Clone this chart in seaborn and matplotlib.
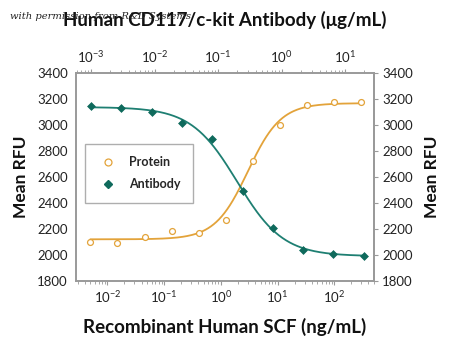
import numpy as np
import pandas as pd
import seaborn as sns
import matplotlib.pyplot as plt
from matplotlib.ticker import LogLocator, NullFormatter

# data
protein_conc = [0.005, 0.015, 0.046, 0.137, 0.41, 1.23, 3.7, 11.1, 33.3, 100, 300]  # ng/mL
protein_rfu = [2098, 2088, 2139, 2181, 2165, 2268, 2723, 3001, 3155, 3176, 3176]
antibody_conc = [0.001, 0.003, 0.009, 0.027, 0.081, 0.243, 0.729, 2.19, 6.56, 19.7]  # ug/mL
antibody_rfu = [3150, 3132, 3099, 3014, 2893, 2492, 2209, 2037, 2003, 1993]

# fitted 4PL parameters (bottom, top, ec50, hill) estimated from the curves
protein_fit = (2120, 3170, 3.0, 1.5)
antibody_fit = (1990, 3140, 0.2, 1.2)

orange = "#E3A33A"
teal = "#1E7F72"
teal_dark = "#0F6A5C"
grey = "#9a9a9a"

sns.set_style("white")
plt.rcParams['font.family'] = ['Lato', 'DejaVu Sans']
plt.rcParams['mathtext.fontset'] = 'custom'
plt.rcParams['mathtext.rm'] = 'Lato'
plt.rcParams['mathtext.it'] = 'Lato:italic'
plt.rcParams['mathtext.bf'] = 'Lato:bold'

def four_pl(x, bottom, top, ec50, hill):
    return bottom + (top - bottom) / (1 + (ec50 / x) ** hill)

fig = plt.figure(figsize=(4.5, 3.51), dpi=100)
ax = fig.add_axes([0.169, 0.200, 0.662, 0.591])

# protein on bottom axis
xs = np.geomspace(0.005, 300, 300)
curve_p = pd.DataFrame({"x": xs, "y": four_pl(xs, *protein_fit)})
sns.lineplot(data=curve_p, x="x", y="y", ax=ax, color=orange, lw=1.3)
df_p = pd.DataFrame({"x": protein_conc, "y": protein_rfu})
sns.scatterplot(data=df_p, x="x", y="y", ax=ax, marker="o", s=18,
                facecolor="white", edgecolor=orange, linewidth=0.9, zorder=3)
ax.set_xscale("log")
ax.set_xlim(0.0028, 500)
ax.set_ylim(1800, 3400)
ax.set_yticks(range(1800, 3401, 200))

# antibody on top axis
axt = ax.twiny()
xa = np.geomspace(0.001, 19.7, 300)
curve_a = pd.DataFrame({"x": xa, "y": antibody_fit[0] + (antibody_fit[1] - antibody_fit[0])
                        / (1 + (xa / antibody_fit[2]) ** antibody_fit[3])})
sns.lineplot(data=curve_a, x="x", y="y", ax=axt, color=teal, lw=1.3)
df_a = pd.DataFrame({"x": antibody_conc, "y": antibody_rfu})
sns.scatterplot(data=df_a, x="x", y="y", ax=axt, marker="D", s=16,
                color=teal_dark, edgecolor=teal_dark, linewidth=0.5, zorder=3)
axt.set_xscale("log")
axt.set_xlim(0.00058, 28.6)
axt.set_ylim(1800, 3400)

for a in (ax, axt):
    a.set_xlabel("")
    a.set_ylabel("")
    for s in a.spines.values():
        s.set_color(grey)
        s.set_linewidth(1.2)
    a.tick_params(which="both", color=grey, direction="out", labelsize=9.5,
                  labelcolor="#222222", pad=3)
    a.tick_params(which="major", length=3, width=0.8)
    a.tick_params(which="minor", length=2, width=0.6)
    a.xaxis.set_minor_locator(LogLocator(base=10, subs=np.arange(2, 10)))
    a.xaxis.set_minor_formatter(NullFormatter())

ax.xaxis.set_major_locator(LogLocator(base=10, numticks=10))
axt.xaxis.set_major_locator(LogLocator(base=10, numticks=10))

sec = ax.secondary_yaxis("right")
sec.set_yticks(range(1800, 3401, 200))
sec.spines["right"].set_color(grey)
sec.spines["right"].set_linewidth(1.2)
sec.tick_params(color=grey, length=3, labelsize=9.5, labelcolor="#222222", pad=3)

label_kw = dict(fontsize=12.5, fontweight="bold", color="#111111")
ax.set_ylabel("Mean RFU", labelpad=6, **label_kw)
sec.set_ylabel("Mean RFU", labelpad=8, **label_kw)
ax.set_xlabel("Recombinant Human SCF (ng/mL)", labelpad=9, fontsize=13.5,
              fontweight="bold", color="#111111")
axt.set_xlabel("Human CD117/c-kit Antibody (\u03bcg/mL)", labelpad=17, fontsize=13.5,
               fontweight="bold", color="#111111")

# legend
h_p = plt.Line2D([], [], marker="o", ls="", mfc="white", mec=orange, ms=5, mew=0.9)
h_a = plt.Line2D([], [], marker="D", ls="", color=teal_dark, ms=4.5)
leg = ax.legend([h_p, h_a], ["Protein", "Antibody"], loc="upper left",
                bbox_to_anchor=(0.01, 0.69), frameon=True, fancybox=False,
                borderpad=1.0, labelspacing=0.8, handletextpad=0.9, handlelength=1.6,
                prop={"weight": "bold", "size": 9})
leg.get_frame().set_edgecolor(grey)
leg.get_frame().set_linewidth(1.0)

fig.text(0.022, 0.947, "with permission from R&D Systems", fontsize=7.2,
         style="italic", family="DejaVu Serif", color="#222222", zorder=5)

fig.savefig("out.png", dpi=100)
